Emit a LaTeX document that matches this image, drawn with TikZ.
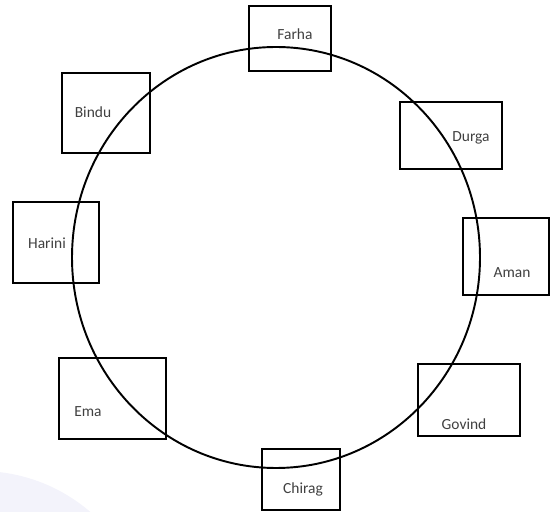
\documentclass[tikz,border=0pt]{standalone}
\usepackage{fontspec}
\setmainfont{Carlito}
\usepackage{tikz}
\usetikzlibrary{positioning}
\definecolor{namegrey}{RGB}{64,64,64}
\definecolor{shadelav}{RGB}{243,243,251}

\begin{document}
\begin{tikzpicture}[
    seat/.style={draw, line width=1.1pt, inner sep=0pt},
    guest/.style={text=namegrey, font=\fontsize{8.8}{10}\selectfont, inner sep=0pt}
  ]
            \useasboundingbox (0,0) rectangle (11,10.22);
            \clip (0,0) rectangle (11,10.22);

            % Faint shade in the corner
            \fill[shadelav] (-0.4,-2.58) circle (3.38);

            % Table
            \draw[line width=1.1pt] (5.52,5.07) ellipse (4.08 and 4.21);

            % Seats
            \node[seat, minimum width=1.64cm, minimum height=1.30cm] (farhaBox) at (5.80,9.45) {};
            \node[seat, minimum width=1.76cm, minimum height=1.60cm] (binduBox) at (2.12,7.96) {};
            \node[seat, minimum width=2.04cm, minimum height=1.34cm] (durgaBox) at (9.02,7.51) {};
            \node[seat, minimum width=1.72cm, minimum height=1.62cm] (hariniBox) at (1.12,5.37) {};
            \node[seat, minimum width=1.72cm, minimum height=1.54cm] (amanBox) at (10.12,5.09) {};
            \node[seat, minimum width=2.14cm, minimum height=1.62cm] (emaBox) at (2.25,2.25) {};
            \node[seat, minimum width=2.04cm, minimum height=1.44cm] (govindBox) at (9.38,2.22) {};
            \node[seat, minimum width=1.56cm, minimum height=1.22cm] (chiragBox) at (6.02,0.63) {};

            % Names
            \node[guest] (farha) at (5.90,9.54) {Farha};
            \node[guest] (bindu) at (1.86,7.98) {Bindu};
            \node[guest] (durga) at (9.42,7.46) {Durga};
            \node[guest] (harini) at (0.94,5.36) {Harini};
            \node[guest] (aman) at (10.24,4.76) {Aman};
            \node[guest] (ema) at (1.76,1.98) {Ema};
            \node[guest] (govind) at (9.28,1.74) {Govind};
            \node[guest] (chirag) at (6.06,0.44) {Chirag};
        \end{tikzpicture}
\end{document}
